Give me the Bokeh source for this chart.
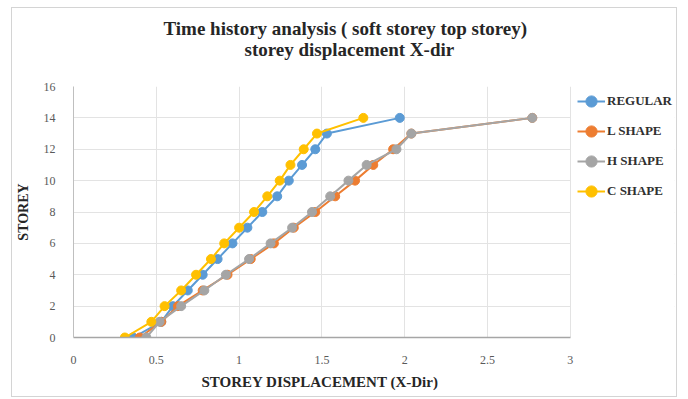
from bokeh.plotting import figure
from bokeh.models import (Legend, LegendItem, Title, FixedTicker, BoxAnnotation,
                          NumeralTickFormatter, Range1d)
from bokeh.embed import file_html
from bokeh.resources import INLINE

# Storey levels and displacement (X-dir) for each building shape
storeys = list(range(0, 15))
regular = [0.36, 0.53, 0.60, 0.69, 0.78, 0.87, 0.96, 1.05, 1.14, 1.23, 1.30, 1.38, 1.46, 1.53, 1.97]
l_shape = [0.40, 0.53, 0.63, 0.78, 0.93, 1.07, 1.21, 1.33, 1.46, 1.58, 1.70, 1.81, 1.93, 2.04, 2.77]
h_shape = [0.44, 0.52, 0.65, 0.79, 0.92, 1.06, 1.19, 1.32, 1.44, 1.55, 1.66, 1.77, 1.95, 2.04, 2.77]
c_shape = [0.31, 0.47, 0.55, 0.65, 0.74, 0.83, 0.91, 1.00, 1.09, 1.17, 1.245, 1.31, 1.39, 1.47, 1.75]

series_names = ["REGULAR", "L SHAPE", "H SHAPE", "C SHAPE"]
series_values = [regular, l_shape, h_shape, c_shape]
series_colors = ["#5B9BD5", "#ED7D31", "#A5A5A5", "#FFC000"]

x_ticks = [0, 0.5, 1, 1.5, 2, 2.5, 3]
y_ticks = [0, 2, 4, 6, 8, 10, 12, 14, 16]
X_MAX = 3

SERIF = "Liberation Serif"
DARK = "#262626"

# The plotting frame is widened past x=3 so the legend can live inside it;
# the axis region proper covers 501 px for 0..3.
FIG_W, FIG_H = 664, 388
LEFT, RIGHT, TOP, BOTTOM = 56, 2, 78, 59
AXIS_PX = 501
frame_w = FIG_W - LEFT - RIGHT
x_end = X_MAX * frame_w / AXIS_PX

p = figure(width=FIG_W, height=FIG_H, output_backend="svg", toolbar_location=None,
           x_range=Range1d(0, x_end), y_range=Range1d(0, 16),
           min_border_left=LEFT, min_border_right=RIGHT, min_border_top=TOP,
           min_border_bottom=BOTTOM)
p.margin = (8, 12, 3, 12)
p.styles = {"outline": "1px solid #d4d4d4"}
p.outline_line_color = None
p.background_fill_color = "white"
p.border_fill_color = "white"

# Two-line title: the first line is the outer panel, pulled down onto the
# (tall) inner panel that holds the second line
p.title.text = "Time history analysis ( soft storey top storey)"
p.title.align = "left"
p.title.offset = 90
p.title.standoff = -57
p.title.text_font = SERIF
p.title.text_font_style = "bold"
p.title.text_font_size = "19px"
p.title.text_color = DARK
p.add_layout(Title(text="storey displacement X-dir",
                   align="left", offset=171, standoff=53, text_font=SERIF,
                   text_font_style="bold", text_font_size="19px",
                   text_color=DARK), "above")

# Axes
for ax in (p.xaxis[0], p.yaxis[0]):
    ax.major_label_text_font = SERIF
    ax.major_label_text_font_size = "12px"
    ax.major_label_text_color = "#595959"
    ax.major_tick_line_color = None
    ax.minor_tick_line_color = None

p.xaxis.ticker = FixedTicker(ticks=x_ticks)
p.xaxis.formatter = NumeralTickFormatter(format="0.[0]")
p.xaxis.bounds = (0, X_MAX)
p.xaxis.axis_line_color = "#a6a6a6"
p.xaxis.axis_line_width = 1.5
p.xaxis.major_label_standoff = 12

p.add_layout(Title(text="STOREY DISPLACEMENT (X-Dir)", align="left", offset=128,
                   standoff=11, text_font=SERIF, text_font_style="bold",
                   text_font_size="15px", text_color=DARK), "below")

p.yaxis.ticker = FixedTicker(ticks=y_ticks)
p.yaxis.axis_line_color = "#bfbfbf"
p.yaxis.major_label_standoff = 12
p.yaxis.axis_label = "STOREY"
p.yaxis.axis_label_text_font = SERIF
p.yaxis.axis_label_text_font_style = "bold"
p.yaxis.axis_label_text_font_size = "14px"
p.yaxis.axis_label_text_color = DARK
p.yaxis.axis_label_standoff = 10

p.xgrid.ticker = FixedTicker(ticks=x_ticks)
p.ygrid.ticker = FixedTicker(ticks=y_ticks)
p.xgrid.grid_line_color = "#e3e3e3"
p.ygrid.grid_line_color = "#e3e3e3"

# Blank out the grid in the legend strip right of x=3
p.add_layout(BoxAnnotation(left=X_MAX + 0.004, fill_color="white", fill_alpha=1,
                           line_color=None, level="underlay"))

items = []
for name, vals, col in zip(series_names, series_values, series_colors):
    ln = p.line(vals, storeys, line_color=col, line_width=2)
    sc = p.scatter(vals, storeys, marker="circle", size=9, fill_color=col,
                   line_color=col)
    items.append(LegendItem(label=name, renderers=[ln, sc]))

legend = Legend(items=items, location=(AXIS_PX + 3, 131), orientation="vertical")
legend.label_text_font = SERIF
legend.label_text_font_style = "bold"
legend.label_text_font_size = "13px"
legend.label_text_color = "#303030"
legend.glyph_width = 28
legend.glyph_height = 30
legend.label_height = 30
legend.label_standoff = 2
legend.spacing = 0
legend.padding = 0
legend.margin = 0
legend.border_line_color = None
legend.background_fill_alpha = 0
p.add_layout(legend)

open("out.html", "w").write(file_html(p, INLINE))
